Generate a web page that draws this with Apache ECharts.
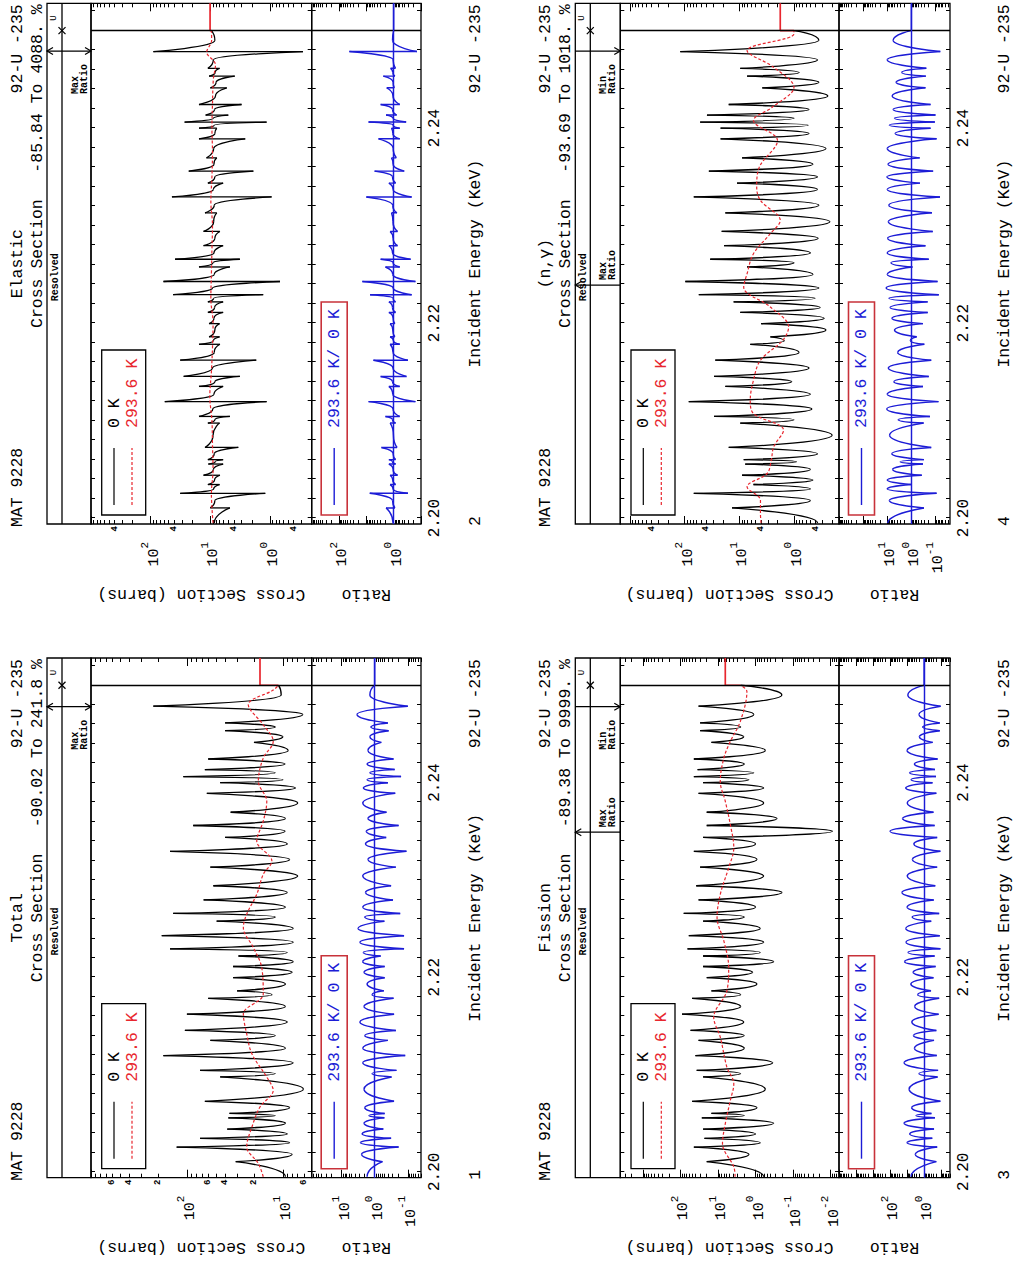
<!DOCTYPE html>
<html><head><meta charset="utf-8">
<script src="https://cdn.jsdelivr.net/npm/echarts@6/dist/echarts.min.js"></script>
<style>
html,body{margin:0;padding:0;background:#fff;overflow:hidden;width:1014px;height:1263px}
#wrap{position:absolute;left:0;top:0;width:1263px;height:1014px;transform-origin:0 0;transform:translate(0px,1263px) rotate(-90deg);}
#chart{width:1263px;height:1014px;background:#fff}
</style></head><body><div id="wrap"><div id="chart"></div></div>
<script>
// ---------------- DATA ----------------
// resonance energies (keV), shared by all reactions
const resE = [2.20105,2.20255,2.20345,2.20440,2.20555,2.20600,2.20725,2.20975,2.21043,2.21195,
  2.21351,2.21453,2.21620,2.21783,2.21860,2.21995,2.22110,2.22218,2.22292,2.22427,
  2.22576,2.22655,2.22794,2.22940,2.23131,2.23294,2.23436,2.23559,2.23695,2.23890,
  2.23999,2.24062,2.24134,2.24242,2.24413,2.24533,2.24613,2.24785];
// energies of the minima between resonances (keV)
const valE = [2.19950,2.20180,2.20300,2.20390,2.20500,2.20578,2.20660,2.20850,2.21010,2.21120,
  2.21270,2.21400,2.21540,2.21700,2.21820,2.21930,2.22050,2.22160,2.22255,2.22360,
  2.22500,2.22620,2.22720,2.22870,2.23040,2.23210,2.23370,2.23500,2.23630,2.23790,
  2.23945,2.24030,2.24100,2.24190,2.24330,2.24470,2.24570,2.24700,2.24900];
const eLabels = [2.20, 2.22, 2.24];

// Total
const totPeak = [31,128,73,38,37,36,65,45,73,176,57,105,100,60,30,33,33,29,150,183,49,139,67,53,57,150,40,86,35,62,45,109,65,60,20,40,40,224];
const totValley = [9.4,8.0,8.5,9.0,9.4,12,8.5,6.1,12,7.8,9.4,12,9.0,9.4,13,9.4,8.0,7.8,9.0,7.8,7.8,12,9.4,9.0,7.0,8.5,9.0,9.5,9.4,7.0,7.4,10,12,9.5,8.8,10,12,6.2,10.4];
const totRedE = [2.1995,2.20086,2.20256,2.20461,2.20666,2.20837,2.20973,2.21213,2.21418,2.21623,2.21828,2.221,2.22305,2.2251,2.22648,2.22852,2.23057,2.23194,2.23399,2.23604,2.23808,2.24013,2.24252,2.24423,2.24594,2.24799,2.2495,2.25];
const totRed = [16,18,23.8,21,17.3,12.6,14.7,21,23.8,25.8,16,16.6,20.3,25.8,23.8,18.7,16,13,18.7,16,14.7,18,16,12.6,16,22.9,12.6,11.1];
const totUnres = 17.3;
const totRatioPeak = [0.58,0.19,0.32,0.55,0.51,0.5,0.26,0.31,0.22,0.12,0.4,0.23,0.26,0.27,0.53,0.5,0.5,0.66,0.13,0.13,0.51,0.17,0.28,0.32,0.23,0.11,0.45,0.19,0.44,0.24,0.4,0.16,0.25,0.27,0.63,0.38,0.4,0.0998];
const totRatioValley = [1.7,2.5,2.7,2.4,2.1,1.5,2.0,2.1,1.2,2.3,2.3,2.0,2.8,2.1,1.2,1.7,2.1,2.3,2.2,2.8,3.2,2.0,2.3,1.9,2.3,1.6,1.9,1.8,1.6,2.3,2.2,1.7,1.4,1.7,1.6,1.4,1.3,3.418,1.4];
const totCsLabels = [10, 100];
const totCsMinorLabels = [6, 20, 40, 60, 200, 400, 600];
const totRatioLabels = [0.1, 1, 10];
const totMarks = [[2.2478, 'both']];

// Elastic
const elaPeak = [10,32,11,13,10.8,11,12.3,11,15.5,58,15.5,28,32,15.5,10.5,10.5,11,11,42,61,15.5,39,13,13,12.3,44,11,23,11.6,15.5,15.5,27,12,15.5,10,10.5,11,90];
const elaDip = [4.7,1.2,7,6.9,6.1,6.1,3.4,7,4.7,1.14,6.1,3.2,1.7,6.9,7,7,6.1,6.1,1.3,0.68,4.7,3.2,6.1,6.9,7.8,0.94,6.1,1.9,7.8,2.6,7.8,1.14,5,3.0,5.3,3.9,7,0.28];
const elaValley = [8.6,8.4,8.8,8.5,8.9,8.3,8.6,9.0,8.4,9.1,8.7,8.4,9.2,8.6,8.9,8.4,8.7,8.5,8.8,9.2,8.6,9.0,8.7,8.4,8.8,8.6,8.9,8.4,8.7,8.8,8.4,8.6,8.9,8.5,8.2,8.0,8.3,8.9,8.4];
const elaRedE = [2.1995,2.2025,2.205,2.2075,2.21,2.2125,2.215,2.2175,2.22,2.2225,2.225,2.2275,2.23,2.2325,2.235,2.2375,2.24,2.2425,2.245,2.2465,2.2478,2.249,2.25];
const elaRed = [9.0,9.6,9.0,9.2,9.4,10.2,9.6,9.2,9.0,9.8,9.6,9.4,9.2,9.8,9.4,9.2,9.4,9.2,8.9,8.2,11.5,9.5,9.6];
const elaUnres = 10.1;
const elaRatioPeak = [0.9,0.3,0.85,0.72,0.85,0.85,0.75,0.85,0.6,0.16,0.6,0.34,0.3,0.6,0.9,0.9,0.85,0.85,0.22,0.16,0.6,0.24,0.72,0.72,0.76,0.22,0.85,0.41,0.8,0.6,0.6,0.35,0.78,0.6,0.95,0.9,0.86,0.1416];
const elaRatioDip = [1.9,7.5,1.35,1.35,1.5,1.5,2.8,1.35,2.0,8.3,1.5,3.0,5.5,1.35,1.35,1.35,1.5,1.5,7.3,14,2.0,3.0,1.5,1.35,1.2,10,1.5,5.0,1.2,3.6,1.2,8.3,1.9,3.0,1.8,2.4,1.3,41.88];
const elaRatioValley = [1.05,1.1,1.05,1.08,1.05,1.1,1.05,1.02,1.1,1.05,1.08,1.1,1.06,1.05,1.02,1.08,1.05,1.1,1.05,1.04,1.08,1.05,1.1,1.05,1.06,1.08,1.05,1.1,1.05,1.04,1.08,1.05,1.05,1.1,1.06,1.05,1.08,1.05,1.1];
const elaCsLabels = [1, 10, 100];
const elaCsMinorLabels = [0.4, 4, 40, 400];
const elaRatioLabels = [1, 100];
const elaMarks = [[2.2479, 'both']];

// Fission
const fisPeak = [20,44,23,25,27,15,49,25,37,40,33,54,91,49,15,20,25,25,65,60,25,82,33,38,30,44,25,20,20,33,25,44,35,44,15,30,30,33];
const fisValley = [0.61,1.5,0.75,1.0,0.33,2.0,0.92,0.55,2.5,0.35,2.0,2.0,2.07,2.5,2.5,0.92,1.2,0.33,0.75,0.61,0.75,2.0,1.0,0.2,0.61,0.92,1.0,0.009,0.27,0.61,0.61,1.5,1.12,2.0,0.55,2.07,2.5,1.12,0.2];
const fisRedE = [2.1995,2.20052,2.2029,2.20495,2.20734,2.20905,2.21076,2.21384,2.21588,2.21861,2.22101,2.22374,2.22613,2.22852,2.23125,2.2333,2.23569,2.23808,2.24013,2.24252,2.24423,2.24628,2.24936,2.25];
const fisRed = [3.5,3.8,7.6,6.4,4.7,3.8,5.8,8.7,13,5.8,5.2,7.0,10.6,8.7,5.2,3.8,4.7,6.4,8.7,7.0,4.7,2.55,1.7,2.5];
const fisUnres = 6.4;
const fisRatioPeak = [0.19,0.17,0.33,0.26,0.23,0.37,0.11,0.16,0.15,0.18,0.26,0.19,0.14,0.13,0.39,0.28,0.21,0.24,0.11,0.12,0.38,0.13,0.27,0.22,0.17,0.11,0.17,0.24,0.28,0.19,0.32,0.2,0.23,0.16,0.31,0.12,0.12,0.1062];
const fisRatioValley = [5.9,3.3,10,7,15,3,5.4,7.6,2,15,3.7,4.2,5.3,3.6,2.4,6,4.4,14,8.7,11.5,12,5,10,20,9.8,4.9,4,101,18.5,9.8,12,5.8,7.1,3.7,10,1.9,1.2,2,9];
const fisCsLabels = [0.01, 0.1, 1, 10, 100];
const fisCsMinorLabels = [];
const fisRatioLabels = [1, 100];
const fisMarks = [[2.2478, 'min'], [2.2349, 'max']];

// (n,gamma)
const capPeak = [13.6,68,5.5,8.9,7.8,8.3,15.6,9.6,29,84,18,29,27.5,6.3,2.7,4.0,9.6,12.7,55,97,7.2,34,19,21,18,68,11,36,8.9,22,22,52,39,15.6,3.8,7.2,9.6,120];
const capValley = [0.37,0.5,0.5,0.45,0.5,0.9,0.37,0.2,1.0,0.47,0.5,1.1,0.53,0.81,1.5,0.26,0.28,0.33,0.41,0.35,0.45,1.0,0.5,0.36,0.22,0.35,0.37,0.37,0.45,0.26,0.53,0.55,1.0,0.53,0.24,0.35,0.8,0.37,0.35];
const capRedE = [2.1995,2.20048,2.20184,2.20321,2.20458,2.20594,2.2073,2.20902,2.21073,2.21209,2.21414,2.21619,2.21824,2.2196,2.22165,2.2237,2.22507,2.22712,2.22917,2.23053,2.23258,2.23395,2.236,2.23873,2.24078,2.24214,2.24419,2.24624,2.24795,2.24966,2.25];
const capRed = [4.0,4.1,4.1,7.2,3.1,2.6,2.35,1.55,5.5,6.3,5.5,4.1,1.6,1.25,2.7,8.3,7.2,5.5,2.7,1.78,4.1,4.8,4.3,2.0,5.5,2.5,1.0,2.35,7.2,1.0,1.0];
const capUnres = 1.78;
const capRatioPeak = [0.3,0.09,1.0,0.37,0.33,0.3,0.15,0.31,0.17,0.075,0.33,0.19,0.15,0.29,0.6,0.33,0.21,0.21,0.073,0.082,0.9,0.19,0.26,0.13,0.14,0.065,0.44,0.125,0.45,0.09,0.16,0.106,0.1,0.16,0.26,0.25,0.24,0.0631];
const capRatioValley = [9.5,8.2,10,10,6,2.9,6.5,8,3.5,10.5,10,5.3,9,3.7,1.1,5,6.4,7.6,8.5,11.18,10,7,10,9.7,9,8.6,10,10.4,9.3,10,4.7,8.2,5,5.7,6.2,4.3,2.5,10,5.7];
const capCsLabels = [1, 10, 100];
const capCsMinorLabels = [0.4, 4, 40, 400];
const capRatioLabels = [0.1, 1, 10];
const capMarks = [[2.2479, 'min'], [2.2239, 'max']];

// ---------------- LAYOUT / STYLE ----------------
const E_MIN = 2.1994, E_MAX = 2.2528, E_RES = 2.25, E_RES_MID = 2.2247, E_U = 2.2513;
const FONT = '"Liberation Mono","DejaVu Sans Mono",monospace';
const RED = '#e8262e', BLUE = '#1c1cd6', BOXRED = '#c8323a';

const panels = [
  {name:'Total', page:'1', pct:'-90.02 To 241.8 %', L:85.3, R:605, boxTop:47, csTop:91, csBot:311.7, rBot:421,
   peak:totPeak, dip:null, valley:totValley, redE:totRedE, red:totRed, unres:totUnres,
   rPeak:totRatioPeak, rDip:null, rValley:totRatioValley,
   csMin:5, csMax:1000, csLabels:totCsLabels, csMinor:totCsMinorLabels, rMin:0.04, rMax:80, rLabels:totRatioLabels, marks:totMarks},
  {name:'Elastic', page:'2', pct:'-85.84 To 4088. %', L:739, R:1259.7, boxTop:47, csTop:91, csBot:311.7, rBot:421,
   peak:elaPeak, dip:elaDip, valley:elaValley, redE:elaRedE, red:elaRed, unres:elaUnres,
   rPeak:elaRatioPeak, rDip:elaRatioDip, rValley:elaRatioValley,
   csMin:0.2, csMax:1000, csLabels:elaCsLabels, csMinor:elaCsMinorLabels, rMin:0.1, rMax:1000, rLabels:elaRatioLabels, marks:elaMarks},
  {name:'Fission', page:'3', pct:'-89.38 To 9999. %', L:85.3, R:605, boxTop:575.3, csTop:620.3, csBot:839, rBot:950,
   peak:fisPeak, dip:null, valley:fisValley, redE:fisRedE, red:fisRed, unres:fisUnres,
   rPeak:fisRatioPeak, rDip:null, rValley:fisRatioValley,
   csMin:0.006, csMax:4000, csLabels:fisCsLabels, csMinor:fisCsMinorLabels, rMin:0.03, rMax:100000, rLabels:fisRatioLabels, marks:fisMarks},
  {name:'(n,\u03b3)', page:'4', pct:'-93.69 To 1018. %', L:739, R:1259.7, boxTop:575.3, csTop:620.3, csBot:839, rBot:950,
   peak:capPeak, dip:null, valley:capValley, redE:capRedE, red:capRed, unres:capUnres,
   rPeak:capRatioPeak, rDip:null, rValley:capRatioValley,
   csMin:0.15, csMax:1500, csLabels:capCsLabels, csMinor:capCsMinorLabels, rMin:0.025, rMax:1000, rLabels:capRatioLabels, marks:capMarks}
];

// tick positions (axis decoration only)
const eTicks = [];
for (let k = 0; k <= 26; k++) eTicks.push(+(2.2 + 0.002 * k).toFixed(3));
function logTickVals(min, max) {
  const out = [];
  for (let e = Math.floor(Math.log10(min)) - 1; e <= Math.ceil(Math.log10(max)); e++)
    for (let k = 1; k < 10; k++) {
      const v = parseFloat((k * Math.pow(10, e)).toPrecision(8));
      if (v >= min * 0.9999 && v <= max * 1.0001) out.push(v);
    }
  return out;
}
const isDecade = v => Math.abs(Math.log10(v) - Math.round(Math.log10(v))) < 1e-6;

// ---------------- SERIES DATA BUILDERS ----------------
// third item: 1 = minimum between resonances (drawn rounded), 0 = resonance extreme (drawn sharp)
function blackData(p) {
  const d = [];
  for (let i = 0; i < valE.length; i++) {
    d.push([valE[i], p.valley[i], 1]);
    if (i < resE.length) {
      if (p.dip) d.push([resE[i], p.dip[i], 0]);
      d.push([resE[i], p.peak[i], 0]);
    }
  }
  d.push([E_RES, p.red[p.red.length - 1], 0]);
  return d;
}
function redData(p) { return p.redE.map((e, i) => [e, p.red[i]]); }
function ratioData(p) {
  const d = [];
  for (let i = 0; i < valE.length; i++) {
    d.push([valE[i], p.rValley[i], 1]);
    if (i < resE.length) {
      if (p.rDip) d.push([resE[i], p.rDip[i], 0]);
      d.push([resE[i], p.rPeak[i], 0]);
    }
  }
  d.push([E_RES, 1, 0]);
  return d;
}
// draws the segment from point i to point i+1 through the axis scales
function curveRenderer(pts, color, width) {
  return function (params, api) {
    const i = params.dataIndex;
    if (i >= pts.length - 1) return;
    const a = api.coord([pts[i][0], pts[i][1]]);
    const b = api.coord([pts[i + 1][0], pts[i + 1][1]]);
    const dx = b[0] - a[0], k = 0.62;
    const c1 = pts[i][2] ? [a[0] + k * dx, a[1]] : a;
    const c2 = pts[i + 1][2] ? [b[0] - k * dx, b[1]] : b;
    return {type:'bezierCurve', silent:true,
      shape:{x1:a[0], y1:a[1], x2:b[0], y2:b[1], cpx1:c1[0], cpy1:c1[1], cpx2:c2[0], cpy2:c2[1]},
      style:{stroke:color, lineWidth:width, fill:null}};
  };
}

// ---------------- OPTION ----------------
const opt = {animation:false, backgroundColor:'#fff', grid:[], xAxis:[], yAxis:[], series:[]};
const decRich = {
  b:{fontFamily:FONT, fontSize:15, color:'#000', lineHeight:22, verticalAlign:'bottom'},
  e:{fontFamily:FONT, fontSize:11, color:'#000', lineHeight:22, verticalAlign:'top'}
};
function xAx(gi, pos, withLabels) {
  return {type:'value', gridIndex:gi, position:pos, min:E_MIN, max:E_MAX,
    axisLine:{show:false}, splitLine:{show:false},
    axisTick:{show:true, inside:true, length:4, customValues:eTicks, lineStyle:{color:'#000', width:1}},
    axisLabel: withLabels ? {show:true, customValues:eLabels, formatter:v => Number(v).toFixed(2), margin:6,
      fontFamily:FONT, fontSize:16, color:'#000'} : {show:false}};
}
function yAx(gi, pos, mn, mx, ticks, len, labels, kind) {
  let axisLabel = {show:false};
  if (kind === 'major' && labels.length) axisLabel = {show:true, customValues:labels, margin:18,
      formatter:v => '{b|10}{e|' + Math.round(Math.log10(v)) + '}', rich:decRich};
  if (kind === 'minor' && labels.length) axisLabel = {show:true, customValues:labels, margin:2,
      formatter:v => String(Math.round(v / Math.pow(10, Math.floor(Math.log10(v) + 1e-9)))),
      fontFamily:FONT, fontSize:9, fontWeight:'bold', color:'#000'};
  return {type:'log', logBase:10, gridIndex:gi, position:pos, min:mn, max:mx,
    axisLine:{show:false}, splitLine:{show:false}, minorTick:{show:false},
    axisTick:{show:true, inside:true, length:len, customValues:ticks, lineStyle:{color:'#000', width:1}},
    axisLabel};
}

panels.forEach((p, pi) => {
  const defs = [
    {top:p.csTop, bot:p.csBot, mn:p.csMin, mx:p.csMax, labels:p.csLabels, minor:p.csMinor, eLab:false},
    {top:p.csBot, bot:p.rBot, mn:p.rMin, mx:p.rMax, labels:p.rLabels, minor:[], eLab:true}
  ];
  const gIdx = [];
  defs.forEach(g => {
    const gi = opt.grid.length; gIdx.push(gi);
    opt.grid.push({left:p.L, top:g.top, width:p.R - p.L, height:g.bot - g.top, show:true,
      borderColor:'#000', borderWidth:1.3, backgroundColor:'rgba(0,0,0,0)'});
    opt.xAxis.push(xAx(gi, 'bottom', g.eLab));
    opt.xAxis.push(xAx(gi, 'top', false));
    const all = logTickVals(g.mn, g.mx), maj = all.filter(isDecade);
    opt.yAxis.push(yAx(gi, 'left', g.mn, g.mx, all, 4, g.labels, 'major'));
    opt.yAxis.push(yAx(gi, 'left', g.mn, g.mx, maj, 8, g.minor, 'minor'));
    opt.yAxis.push(yAx(gi, 'right', g.mn, g.mx, all, 4, [], null));
    opt.yAxis.push(yAx(gi, 'right', g.mn, g.mx, maj, 8, [], null));
  });
  const [gc, gr] = gIdx;
  const base = {type:'line', showSymbol:false, symbol:'none', silent:true, animation:false};
  const bd = blackData(p), rd = ratioData(p);
  opt.series.push({type:'custom', name:p.name + ' 0 K', coordinateSystem:'cartesian2d',
    xAxisIndex:2*gc, yAxisIndex:4*gc, z:3, silent:true, clip:true, animation:false,
    encode:{x:0, y:1}, data:bd, renderItem:curveRenderer(bd, '#000', 1.3)});
  opt.series.push(Object.assign({}, base, {name:p.name + ' 293.6 K', xAxisIndex:2*gc, yAxisIndex:4*gc, z:4,
    data:redData(p), smooth:0.35, lineStyle:{color:RED, width:1.2, type:[3,2]}}));
  opt.series.push(Object.assign({}, base, {name:p.name + ' 293.6 K unres', xAxisIndex:2*gc, yAxisIndex:4*gc, z:4,
    data:[[E_RES, p.red[p.red.length - 1]], [E_RES, p.unres], [E_MAX, p.unres]], lineStyle:{color:RED, width:1.7},
    markLine:{silent:true, symbol:'none', label:{show:false}, animation:false,
      lineStyle:{color:'#000', width:1.3, type:'solid'}, data:[{xAxis:E_RES}]}}));
  opt.series.push({type:'custom', name:p.name + ' ratio', coordinateSystem:'cartesian2d',
    xAxisIndex:2*gr, yAxisIndex:4*gr, z:3, silent:true, clip:true, animation:false,
    encode:{x:0, y:1}, data:rd, renderItem:curveRenderer(rd, BLUE, 1.45)});
  opt.series.push(Object.assign({}, base, {name:p.name + ' ratio unres', xAxisIndex:2*gr, yAxisIndex:4*gr, z:3,
    data:[[E_RES, 1], [E_MAX, 1]], lineStyle:{color:BLUE, width:1.45},
    markLine:{silent:true, symbol:'none', label:{show:false}, animation:false,
      data:[{xAxis:E_RES, lineStyle:{color:'#000', width:1.3, type:'solid'}},
            {yAxis:1, lineStyle:{color:BLUE, width:1.45, type:'solid'}}]}}));
});

const chart = echarts.init(document.getElementById('chart'), null, {renderer:'svg', width:1263, height:1014});
chart.setOption(opt);

// ---------------- ANNOTATIONS ----------------
const G = [];
function txt(x, y, s, o) {
  o = o || {};
  G.push({type:'text', x:x, y:y, rotation:o.rot || 0, silent:true, z:50,
    style:{text:s, x:0, y:0, fill:o.color || '#000',
      font:(o.weight || 'normal') + ' ' + (o.size || 16.5) + 'px ' + FONT,
      textAlign:o.align || 'left', textVerticalAlign:'middle', align:o.align || 'left', verticalAlign:'middle'}});
}
function seg(x1, y1, x2, y2, o) {
  o = o || {};
  G.push({type:'line', silent:true, z:50, shape:{x1, y1, x2, y2},
    style:{stroke:o.color || '#000', lineWidth:o.w || 1, lineDash:o.dash || null}});
}
function box(x, y, w, h, o) {
  o = o || {};
  G.push({type:'rect', silent:true, z:49, shape:{x, y, width:w, height:h},
    style:{stroke:o.color || '#000', lineWidth:o.w || 1.2, fill:'#fff'}});
}
function poly(pts, o) {
  o = o || {};
  G.push({type:'polyline', silent:true, z:50, shape:{points:pts}, style:{stroke:o.color || '#000', lineWidth:o.w || 1, fill:'none'}});
}

panels.forEach((p, pi) => {
  const xi = 2 * (2 * pi);
  const px = e => chart.convertToPixel({xAxisIndex:xi}, e);
  const cx = (p.L + p.R) / 2;
  const t1 = p.boxTop - 30, t2 = p.boxTop - 10;
  txt(p.L - 3, t1, 'MAT 9228');
  txt(cx, t1, p.name, {align:'center'});
  txt(p.R - 1, t1, '92-U -235', {align:'right'});
  txt(cx, t2, 'Cross Section', {align:'center'});
  txt(p.R - 1, t2, p.pct, {align:'right'});
  // strip box
  G.push({type:'rect', silent:true, z:40, shape:{x:p.L, y:p.boxTop, width:p.R - p.L, height:p.csTop - p.boxTop},
    style:{stroke:'#000', lineWidth:1.3, fill:'none'}});
  const ry = p.boxTop + 15;
  seg(p.L, ry, p.R, ry, {w:1.3});
  txt(px(E_RES_MID), p.boxTop + 8, 'Resolved', {size:10, weight:'bold', align:'center'});
  const xr = px(E_RES);
  seg(xr - 3.5, ry - 3.5, xr + 3.5, ry + 3.5, {w:1.2});
  seg(xr - 3.5, ry + 3.5, xr + 3.5, ry - 3.5, {w:1.2});
  txt(px(E_U), p.boxTop + 7, 'U', {size:9, align:'center'});
  // ratio markers
  p.marks.forEach(m => {
    const x = px(m[0]), y0 = p.boxTop, y1 = p.csTop;
    seg(x, y0, x, y1, {w:1.2});
    if (m[1] === 'both' || m[1] === 'max') poly([[x - 3.5, y0 + 6], [x, y0], [x + 3.5, y0 + 6]], {w:1.2});
    if (m[1] === 'both' || m[1] === 'min') poly([[x - 3.5, y1 - 6], [x, y1], [x + 3.5, y1 - 6]], {w:1.2});
    const label = m[1] === 'min' ? 'Min' : 'Max';
    const tx = m[1] === 'max' ? x + 5 : x - 43;
    txt(tx, p.boxTop + 28, label, {size:10, weight:'bold'});
    txt(tx, p.boxTop + 37, 'Ratio', {size:10, weight:'bold'});
  });
  // legends
  box(p.L + 9, p.csTop + 10.7, 165, 44, {w:1.3});
  seg(p.L + 19, p.csTop + 23, p.L + 76, p.csTop + 23, {w:1.2});
  seg(p.L + 19, p.csTop + 41, p.L + 76, p.csTop + 41, {w:1.2, color:RED, dash:[3, 2]});
  txt(p.L + 96, p.csTop + 23, '0 K');
  txt(p.L + 96, p.csTop + 41.5, '293.6 K', {color:RED});
  box(p.L + 9, p.csBot + 9.5, 213, 26, {w:1.6, color:BOXRED});
  seg(p.L + 19, p.csBot + 22.5, p.L + 76, p.csBot + 22.5, {w:1.4, color:BLUE});
  txt(p.L + 96, p.csBot + 22.5, '293.6 K/ 0 K', {color:BLUE});
  // axis titles
  txt(p.L - 70, (p.csTop + p.csBot) / 2, 'Cross Section (barns)', {align:'center', rot:Math.PI / 2});
  txt(p.L - 70, (p.csBot + p.rBot) / 2, 'Ratio', {align:'center', rot:Math.PI / 2});
  const by = p.rBot + 54;
  txt(p.L - 2, by, p.page);
  txt(cx, by, 'Incident Energy (KeV)', {align:'center'});
  txt(p.R - 1, by, '92-U -235', {align:'right'});
});
chart.setOption({graphic:{elements:G}});
</script></body></html>
